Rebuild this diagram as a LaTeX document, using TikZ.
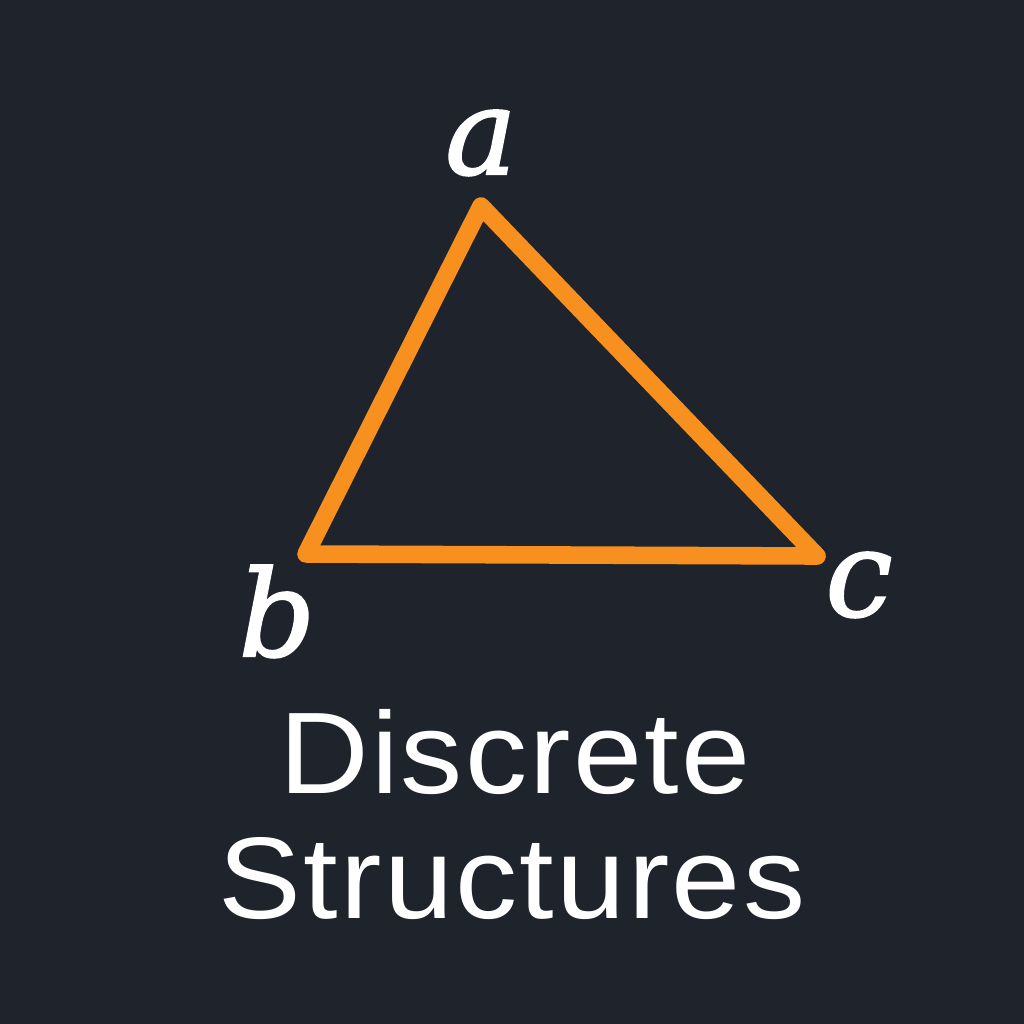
\documentclass[tikz,border=0pt]{standalone}
\usepackage{fontspec}
\setmainfont{Liberation Sans}[FakeStretch=1.07,LetterSpace=2]
\newfontfamily\lblfont{DejaVu Serif}[ItalicFeatures={FakeBold=1.8}]
\definecolor{bg}{HTML}{1F232B}
\definecolor{edge}{HTML}{F7901E}
\begin{document}
\begin{tikzpicture}[x=0.01cm,y=-0.01cm,
  vlabel/.style={text=white,font=\lblfont\itshape\fontsize{34}{40}\selectfont,inner sep=0pt,anchor=base},
  title/.style={text=white,font=\fontsize{33}{35.5}\selectfont,inner sep=0pt,anchor=base},
  edgeline/.style={draw=edge,line width=5pt,line join=round,line cap=round}]
\fill[bg] (0,0) rectangle (1024,1024);
\useasboundingbox (0,0) rectangle (1024,1024);
\coordinate (A) at (481,206);
\coordinate (B) at (306,554);
\coordinate (C) at (817,556);
\draw[edgeline] (A) -- (B) -- (C) -- cycle;
\node[vlabel] (la) at (481,174) {a};
\node[vlabel] (lb) at (277,656) {b};
\node[vlabel] (lc) at (859,616) {c};
\node[title] (t1) at (515,793) {Discrete};
\node[title] (t2) at (512,918) {Structures};
\end{tikzpicture}
\end{document}
